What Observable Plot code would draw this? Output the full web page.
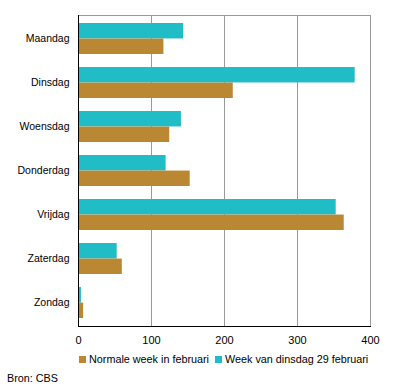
<!DOCTYPE html>
<html><head><meta charset="utf-8">
<script src="https://cdn.jsdelivr.net/npm/d3@7"></script>
<script src="https://cdn.jsdelivr.net/npm/@observablehq/plot@0.6"></script>
<style>
body{margin:0;background:#fff;font-family:"Liberation Sans",Arial,sans-serif;}
#legend{position:absolute;left:79px;top:353px;font-size:10.8px;display:flex;gap:6px;white-space:nowrap;}
#legend span.sw{display:inline-block;width:7px;height:7px;margin-right:3px;vertical-align:0px;}
#source{position:absolute;left:7px;top:372px;font-size:10.8px;}
</style></head>
<body>
<div id="chart"></div>
<div id="legend"></div>
<div id="source">Bron: CBS</div>
<script>
const days = ["Maandag","Dinsdag","Woensdag","Donderdag","Vrijdag","Zaterdag","Zondag"];
const seriesNames = ["Normale week in februari","Week van dinsdag 29 februari"];
const normal = [117,212,125,153,364,60,7];
const week29 = [144,379,141,120,353,53,4];
const xTicks = [0,100,200,300,400];
const colors = ["#BA8733","#20BDC6"];

const rows = days.map((d,i)=>({day:d, normal:normal[i], week:week29[i]}));
const plotH = 311, step = plotH/7, bw = step*0.7;

const chart = Plot.plot({
  width:396, height:350,
  marginTop:15, marginBottom:24, marginLeft:78, marginRight:26,
  style:{fontFamily:"Liberation Sans, Arial, sans-serif", fontSize:"11px", color:"#000", background:"#fff"},
  x:{domain:[0,400], ticks:xTicks, label:null},
  y:{domain:days, paddingInner:0.3, paddingOuter:0.15, label:null},
  marks:[
    Plot.gridX(xTicks, {stroke:"#999", strokeOpacity:1}),
    Plot.frame({stroke:"#999"}),
    Plot.barX(rows, {y:"day", x:"week", fill:colors[1], insetBottom:bw/2, insetTop:0}),
    Plot.barX(rows, {y:"day", x:"normal", fill:colors[0], insetTop:bw/2, insetBottom:0}),
    Plot.ruleX([0], {stroke:"#000"}),
    Plot.frame({anchor:"bottom", stroke:"#000"}),
    Plot.axisX(xTicks, {tickSize:0, tickPadding:10, fontSize:11}),
    Plot.axisY({tickSize:0, tickPadding:9, fontSize:10.5})
  ]
});
document.getElementById("chart").appendChild(chart);

const lg = document.getElementById("legend");
seriesNames.forEach((n,i)=>{
  const s = document.createElement("span");
  s.innerHTML = `<span class="sw" style="background:${colors[i]}"></span>${n}`;
  lg.appendChild(s);
});
</script>
</body></html>
